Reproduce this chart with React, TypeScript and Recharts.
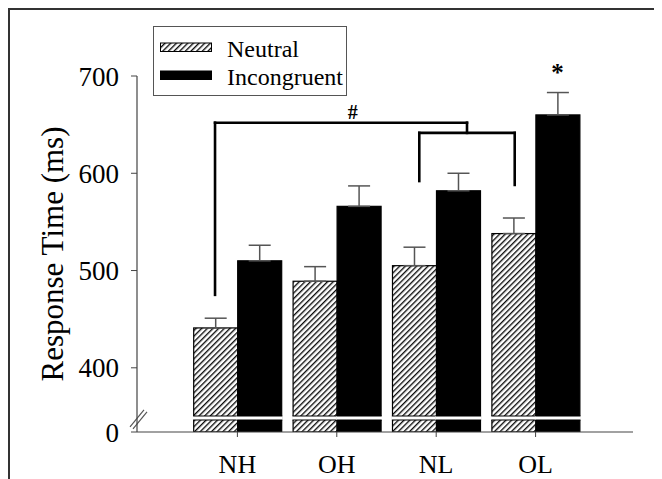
import {
  BarChart,
  Bar,
  XAxis,
  YAxis,
  ErrorBar,
  Legend,
  ReferenceLine,
  ReferenceDot,
} from 'recharts';

const categories = ['NH', 'OH', 'NL', 'OL'];
const neutral = [441, 489, 505, 538];
const incongruent = [510, 566, 582, 660];
const neutralErr = [10, 15, 19, 16];
const incongruentErr = [16, 21, 18, 23];

// y axis is broken: the bottom of the domain is labelled "0"
const yTicks = [334, 400, 500, 600, 700];
const yTickLabels = ['0', '400', '500', '600', '700'];
const axisBreak = 348.6;

// bracket corners, x in category units (0 = NH centre)
const outerBracket = [
  { x: -0.225, y: 475 },
  { x: -0.225, y: 652 },
  { x: 2.31, y: 652 },
  { x: 2.31, y: 641.5 },
];
const innerBracket = [
  { x: 1.83, y: 592 },
  { x: 1.83, y: 641.5 },
  { x: 2.79, y: 641.5 },
  { x: 2.79, y: 588 },
];
const hashMark = { x: 1.16, y: 663, text: '#' };
const starMark = { x: 3.22, y: 704, text: '*' };

const xTicks = categories.map((_, i) => i);
const seriesOrder = ['neutral', 'incongruent'];

const data = categories.map((name, i) => ({
  pos: i,
  name,
  neutral: neutral[i],
  incongruent: incongruent[i],
  neutralErr: [0, neutralErr[i]],
  incongruentErr: [0, incongruentErr[i]],
}));

const toSegments = (pts: { x: number; y: number }[]) =>
  pts.slice(1).map((p, i) => [pts[i], p]);

const segments = [...toSegments(outerBracket), ...toSegments(innerBracket)];

const FONT = "'Liberation Serif', 'Times New Roman', serif";

function BrokenBar(props: any) {
  const { x, y, width, height, fill } = props;
  if (height == null || height <= 0) return null;
  const bottom = y + height;
  return (
    <g>
      <rect x={x} y={y} width={width} height={height} fill={fill} stroke="#000" strokeWidth={1.2} />
      <rect x={x - 1} y={bottom - 16} width={width + 2} height={4} fill="#fff" />
      <line x1={x - 0.6} x2={x + width + 0.6} y1={bottom - 16} y2={bottom - 16} stroke="#000" strokeWidth={1.2} />
      <line x1={x - 0.6} x2={x + width + 0.6} y1={bottom - 12} y2={bottom - 12} stroke="#000" strokeWidth={1.2} />
    </g>
  );
}

function AxisBreakMark(props: any) {
  const x = Math.min(props.x1, props.x2);
  const y = props.y1;
  return (
    <g stroke="#555" strokeWidth={1.2}>
      <line x1={x - 7} y1={y + 9} x2={x + 7} y2={y - 8} />
      <line x1={x - 4} y1={y + 11} x2={x + 10} y2={y - 6} />
    </g>
  );
}

function YLabel(props: any) {
  const vb = props.viewBox || { x: 57, y: 66, width: 70, height: 356 };
  const x = vb.x - 4;
  const y = vb.y + vb.height / 2;
  return (
    <text
      x={x}
      y={y}
      transform={`rotate(-90, ${x}, ${y})`}
      textAnchor="middle"
      fontSize={31}
      fill="#000"
      style={{ fontFamily: FONT }}
    >
      Response Time (ms)
    </text>
  );
}

function LegendBox(props: any) {
  const items = [...(props.payload || [])].sort(
    (a: any, b: any) => seriesOrder.indexOf(a.dataKey) - seriesOrder.indexOf(b.dataKey)
  );
  return (
    <svg width={194} height={70} style={{ display: 'block' }}>
      <rect x={0.5} y={0.5} width={193} height={69} fill="#fff" stroke="#555" />
      {items.map((item: any, i: number) => (
        <g key={item.value}>
          <rect
            x={7.5}
            y={17 + i * 28}
            width={51}
            height={8.5}
            fill={item.dataKey === 'neutral' ? 'url(#hatch)' : '#000'}
            stroke="#000"
            strokeWidth={1}
          />
          <text x={74} y={31 + i * 28} fontSize={24} fill="#000" style={{ fontFamily: FONT }}>
            {item.value}
          </text>
        </g>
      ))}
    </svg>
  );
}

export default function App() {
  return (
    <div
      style={{
        width: 654,
        height: 471,
        borderLeft: '2px solid #333',
        borderTop: '2px solid #333',
        boxSizing: 'border-box',
        background: '#fff',
        fontFamily: FONT,
      }}
    >
      <BarChart
        width={652}
        height={469}
        data={data}
        margin={{ top: 66, right: 29, left: 57, bottom: 7 }}
        barGap={0}
        barSize={44}
        style={{ fontFamily: FONT }}
      >
        <defs>
          <pattern
            id="hatch"
            width={4}
            height={4}
            patternUnits="userSpaceOnUse"
            patternTransform="rotate(45)"
          >
            <rect width={4} height={4} fill="#fff" />
            <line x1={0.7} y1={0} x2={0.7} y2={4} stroke="#000" strokeWidth={1.3} />
          </pattern>
        </defs>
        <XAxis
          dataKey="pos"
          type="number"
          domain={[-1.01, 3.98]}
          allowDataOverflow
          ticks={xTicks}
          tickFormatter={(v: number) => categories[v] ?? ''}
          height={40}
          tickSize={5}
          tickMargin={18}
          tick={{ fontSize: 26, fill: '#000', fontFamily: FONT }}
          axisLine={{ stroke: '#444', strokeWidth: 1.2 }}
          tickLine={{ stroke: '#444' }}
        />
        <YAxis
          domain={[334, 700]}
          ticks={yTicks}
          allowDataOverflow
          width={70}
          tickSize={6}
          tickMargin={12}
          tickFormatter={(v: number) => yTickLabels[yTicks.indexOf(v)] ?? String(v)}
          tick={{ fontSize: 27, fill: '#000', fontFamily: FONT }}
          axisLine={{ stroke: '#444', strokeWidth: 1.2 }}
          tickLine={{ stroke: '#444' }}
          label={{ content: (p: any) => <YLabel {...p} /> }}
        />
        <Legend
          layout="vertical"
          align="center"
          verticalAlign="middle"
          wrapperStyle={{ left: 143, top: 16, width: 194, height: 70 }}
          content={(p: any) => <LegendBox {...p} />}
        />
        <Bar
          dataKey="neutral"
          name="Neutral"
          fill="url(#hatch)"
          shape={(p: any) => <BrokenBar {...p} />}
          isAnimationActive={false}
        >
          <ErrorBar dataKey="neutralErr" direction="y" width={11} stroke="#555" strokeWidth={1.5} />
        </Bar>
        <Bar
          dataKey="incongruent"
          name="Incongruent"
          fill="#000"
          shape={(p: any) => <BrokenBar {...p} />}
          isAnimationActive={false}
        >
          <ErrorBar dataKey="incongruentErr" direction="y" width={11} stroke="#555" strokeWidth={1.5} />
        </Bar>
        <ReferenceLine y={axisBreak} stroke="none" shape={(p: any) => <AxisBreakMark {...p} />} />
        {segments.map(([a, b], i) => (
          <ReferenceLine
            key={i}
            segment={[a, b]}
            stroke="#000"
            strokeWidth={2.6}
            strokeLinecap="square"
          />
        ))}
        <ReferenceDot
          x={hashMark.x}
          y={hashMark.y}
          r={1}
          fill="none"
          stroke="none"
          label={{ value: hashMark.text, position: 'center', fontSize: 20, fontWeight: 'bold', fill: '#000', fontFamily: FONT }}
        />
        <ReferenceDot
          x={starMark.x}
          y={starMark.y}
          r={1}
          fill="none"
          stroke="none"
          ifOverflow="visible"
          label={{ value: starMark.text, position: 'center', fontSize: 25, fontWeight: 'bold', fill: '#000', fontFamily: FONT }}
        />
      </BarChart>
    </div>
  );
}
